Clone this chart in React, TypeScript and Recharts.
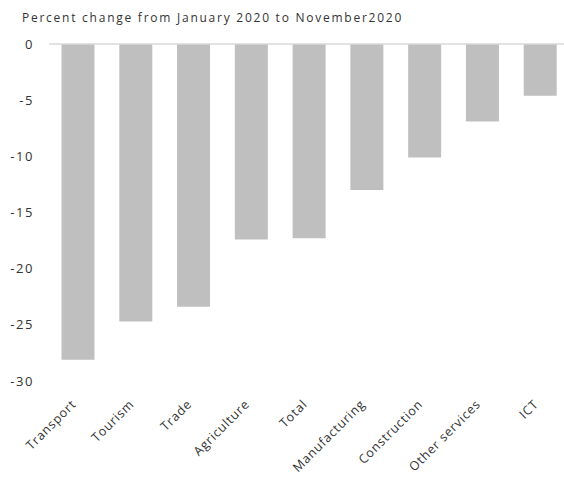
import React from "react";
import { BarChart, Bar, XAxis, YAxis, ReferenceLine } from "recharts";

const categories = ["Transport", "Tourism", "Trade", "Agriculture", "Total", "Manufacturing", "Construction", "Other services", "ICT"];
const changes = [-28.1, -24.7, -23.4, -17.4, -17.3, -13.0, -10.1, -6.9, -4.6];
const yTicks = [0, -5, -10, -15, -20, -25, -30];
const title = "Percent change from January 2020 to November2020";

const data = categories.map((c, i) => ({ name: c, value: changes[i] }));

const FONT = "'Open Sans', sans-serif";

const XTick = (props: any) => {
  const { x, y, payload } = props;
  return (
    <text
      x={0}
      y={0}
      transform={`translate(${x - 1},${y + 16}) rotate(-45)`}
      textAnchor="end"
      fontFamily={FONT}
      fontSize={12.5}
      letterSpacing={0.8}
      fill="#333"
    >
      {payload.value}
    </text>
  );
};

export default function App() {
  return (
    <div style={{ position: "absolute", left: 0, top: 0, width: 564, height: 477, overflow: "hidden", background: "#fff" }}>
      <div style={{ position: "absolute", left: 22, top: 9, fontFamily: FONT, fontSize: 12, letterSpacing: 1.75, color: "#333", whiteSpace: "nowrap" }}>
        {title}
      </div>
      <BarChart
        width={580}
        height={477}
        data={data}
        margin={{ top: 44, right: 11, bottom: 6, left: 0 }}
        barCategoryGap={12.5}
      >
        <XAxis dataKey="name" axisLine={false} tickLine={false} tick={<XTick />} height={90} interval={0} />
        <YAxis
          domain={[-30, 0]}
          ticks={yTicks}
          width={49}
          axisLine={false}
          tickLine={false}
          tickSize={0}
          tickMargin={15}
          tick={{ fontFamily: FONT, fontSize: 13, fill: "#333", letterSpacing: 1.6 }}
        />
        <Bar dataKey="value" fill="#bfbfbf" isAnimationActive={false} />
        <ReferenceLine y={0} stroke="#d9d9d9" strokeWidth={1.5} />
      </BarChart>
    </div>
  );
}
